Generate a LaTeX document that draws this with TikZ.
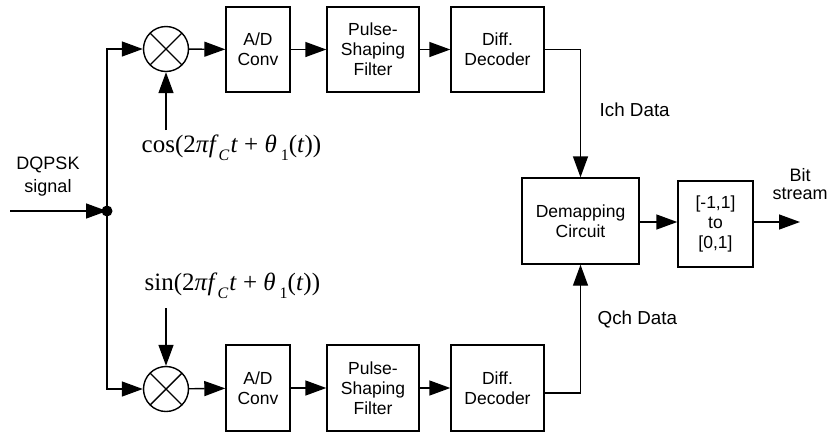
\documentclass[tikz,border=0pt]{standalone}
\usepackage{fontspec}
\setmainfont{Liberation Sans}
\newfontfamily\tnr{Liberation Serif}
\usetikzlibrary{arrows.meta,calc}
\newcommand{\sbs}[1]{\raisebox{-0.3em}{\fontsize{16}{16}\selectfont #1}}
\begin{document}
\begin{tikzpicture}[x=1pt,y=-1pt,
  line width=1.4pt,
  blk/.style={draw,line width=1.4pt,align=center,inner sep=0pt,font=\fontsize{17.5}{20}\selectfont},
  mix/.style={draw,circle,minimum size=45pt,inner sep=0pt,line width=1.4pt,
     path picture={\draw[line width=1.4pt] (path picture bounding box.north west) -- (path picture bounding box.south east)
       (path picture bounding box.north east) -- (path picture bounding box.south west);}},
  arr/.style={-{Triangle[length=21pt,width=15pt]}},
  lbl/.style={align=center,inner sep=0pt,font=\fontsize{18}{23}\selectfont},
  mth/.style={inner sep=0pt,font=\tnr\fontsize{25}{25}\selectfont}]
\useasboundingbox (0,0) rectangle (832,432);
% top branch
\node[mix] (mixT) at (166,49) {};
\node[blk,minimum width=64pt,minimum height=85pt] (adT) at (258,49.5) {A/D\\Conv};
\node[blk,minimum width=92pt,minimum height=85pt] (psT) at (373,49.5) {Pulse-\\Shaping\\Filter};
\node[blk,minimum width=93pt,minimum height=85pt] (ddT) at (497.5,49.5) {Diff.\\Decoder};
% bottom branch
\node[mix] (mixB) at (166,389) {};
\node[blk,minimum width=64pt,minimum height=86pt] (adB) at (258,388) {A/D\\Conv};
\node[blk,minimum width=92pt,minimum height=86pt] (psB) at (373,388) {Pulse-\\Shaping\\Filter};
\node[blk,minimum width=93pt,minimum height=86pt] (ddB) at (497.5,388) {Diff.\\Decoder};
% right
\node[blk,minimum width=117pt,minimum height=86pt] (dem) at (580.5,221) {Demapping\\Circuit};
\node[blk,minimum width=75pt,minimum height=86pt] (cnv) at (715.5,224) {{[-1,1]}\\to\\{[0,1]}};
% junction and ends
\fill (107,211) circle (5.5pt);
\coordinate (jn) at (107,211);
\coordinate (in) at (10,211);
\coordinate (out) at (800,222);
\coordinate (cosS) at (166,130);
\coordinate (sinS) at (166,308);
% labels
\node[lbl] (dq) at (48,177) {DQPSK\\signal};
\node[lbl,font=\fontsize{18}{18}\selectfont] (bs) at (800,184) {Bit\\stream};
\node[lbl,anchor=west,font=\fontsize{18.8}{20}\selectfont] (ich) at (599,110) {Ich Data};
\node[lbl,anchor=west,font=\fontsize{18.8}{20}\selectfont] (qch) at (597,319) {Qch Data};
\node[mth,anchor=west] (cosl) at (141,148) {cos(2\textit{π\kern0.5pt f}\sbs{\textit{C}}\kern1pt\textit{t}{} + {}\textit{θ}\kern4pt\sbs{1}(\textit{t}))};
\node[mth,anchor=west] (sinl) at (144,286) {sin(2\textit{π\kern0.5pt f}\sbs{\textit{C}}\kern1pt\textit{t}{} + {}\textit{θ}\kern4pt\sbs{1}(\textit{t}))};
% connectors
\draw[arr] (in) -- (jn);
\draw[arr] (jn) |- (mixT.west);
\draw[arr] (jn) |- (mixB.west);
\draw[arr] (cosS) -- (mixT.south);
\draw[arr] (sinS) -- (mixB.north);
\draw[arr] (mixT) -- (adT);
\draw[arr] (adT) -- (psT);
\draw[arr] (psT) -- (ddT);
\draw[arr] (mixB) -- (adB);
\draw[arr] (adB) -- (psB);
\draw[arr] (psB) -- (ddB);
\draw[arr] (ddT.east) -| (dem.north);
\draw[arr] ($(ddB.east)+(0,5)$) -| (dem.south);
\draw[arr] (dem.east |- out) -- (cnv.west |- out);
\draw[arr] (cnv.east |- out) -- (out);
\end{tikzpicture}
\end{document}
